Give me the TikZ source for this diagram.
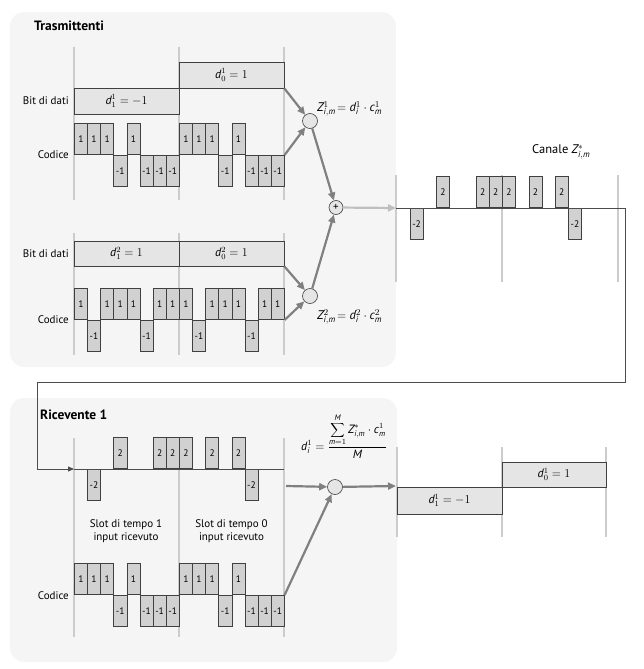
\documentclass[tikz,border=0pt]{standalone}
\usepackage{fontspec}
\setmainfont{PT Sans}
\usetikzlibrary{arrows.meta}
\newcommand\chiprow[6]{%
  \foreach \v [count=\k] in {#6} {%
    \pgfmathsetmacro\xx{#2+(\k-1)*#3}%
    \ifnum\v>0
      \node[bar, anchor=south west, minimum width=#3pt, minimum height=#5pt] (#1\k) at (\xx,#4) {\v};
    \else\ifnum\v<0
      \node[bar, anchor=north west, minimum width=#3pt, minimum height=#5pt] (#1\k) at (\xx,#4) {\v};
    \fi\fi
  }%
}
\tikzset{
  panel/.style={fill=black!4, rounded corners=14pt},
  vline/.style={draw=black!20, line width=2.6pt},
  bar/.style={draw=black!75, fill=black!18, line width=0.6pt, inner sep=0pt, font=\fontsize{9.5}{10}\selectfont},
  dbox/.style={draw=black!75, fill=black!10, line width=0.6pt, inner sep=0pt, minimum width=105pt, minimum height=26pt, font=\fontsize{12}{14}\selectfont},
  mult/.style={circle, draw=black!75, fill=black!10, line width=0.6pt, minimum size=15pt, inner sep=0pt},
  flow/.style={draw=black!50, line width=2.2pt, -{Triangle[length=8pt,width=7pt]}},
  feed/.style={draw=black!25, line width=2.2pt, -{Triangle[length=8pt,width=7pt]}},
  wire/.style={draw=black!70, line width=0.8pt},
  lbl/.style={anchor=east, inner sep=0pt},
  ttl/.style={anchor=west, inner sep=0pt, font=\fontsize{13.5}{15}\selectfont\bfseries},
  txt/.style={inner sep=0pt},
  fml/.style={inner sep=0pt, font=\fontsize{12.5}{14}\selectfont}
}
\begin{document}
\begin{tikzpicture}[x=1pt, y=-1pt, font=\fontsize{11}{13.5}\selectfont]
\useasboundingbox (0,0) rectangle (643,669);
% panels
\fill[panel] (10,12) rectangle (396,367);
\fill[panel] (10,398) rectangle (397,662);
% vertical slot lines
\foreach \x in {74,179,284} {
  \draw[vline] (\x,47) -- (\x,200);
  \draw[vline] (\x,233) -- (\x,355);
  \draw[vline] (\x,438) -- (\x,637);
}
\foreach \x in {396,502,618} \draw[vline] (\x,175) -- (\x,282);
\foreach \x in {397,502,606} \draw[vline] (\x,447) -- (\x,537);
% titles
\node[ttl] (tTx) at (34,26) {Trasmittenti};
\node[ttl] (tRx) at (40,415) {Ricevente 1};
% transmitter 1
\node[lbl] (lb1) at (69,101) {Bit di dati};
\node[lbl] (lc1) at (69,155) {Codice};
\node[dbox] (aD1) at (126.5,101) {$\mathit{d}^{1}_{1} = -1$};
\node[dbox] (aD0) at (231.5,75) {$\mathit{d}^{1}_{0} = 1$};
\chiprow{ca}{74}{13.125}{155}{31}{1,1,1,-1,1,-1,-1,-1,1,1,1,-1,1,-1,-1,-1}
% transmitter 2
\node[lbl] (lb2) at (69,253.5) {Bit di dati};
\node[lbl] (lc2) at (69,320) {Codice};
\node[dbox, minimum height=25pt] (bD1) at (126.5,253.5) {$\mathit{d}^{2}_{1} = 1$};
\node[dbox, minimum height=25pt] (bD0) at (231.5,253.5) {$\mathit{d}^{2}_{0} = 1$};
\chiprow{cb}{74}{13.125}{320}{31}{1,-1,1,1,1,-1,1,1,1,-1,1,1,1,-1,1,1}
% multipliers and sum
\node[mult] (m1) at (310,121) {};
\node[mult] (m2) at (310,296) {};
\node[mult, minimum size=14pt, font=\fontsize{11}{11}\selectfont] (sum) at (336,207.5) {+};
\node[fml, anchor=west] (f1) at (317,109) {$\mathit{Z}^{1}_{\mathit{i,m}}\!= \mathit{d}^{1}_{\mathit{i}}\cdot \mathit{c}^{1}_{\mathit{m}}$};
\node[fml, anchor=west] (f2) at (317,317) {$\mathit{Z}^{2}_{\mathit{i,m}}\!= \mathit{d}^{2}_{\mathit{i}}\cdot \mathit{c}^{2}_{\mathit{m}}$};
\draw[flow] (aD0.south east) -- (m1);
\draw[flow] (ca16.north east) -- (m1);
\draw[flow] (m1) -- (sum);
\draw[flow] (bD0.south east) -- (m2);
\draw[flow] (cb16.south east) -- (m2);
\draw[flow] (m2) -- (sum);
% channel
\coordinate (chs) at (396,208);
\coordinate (che) at (625,208);
\draw[feed] (sum) -- (chs);
\node[fml, anchor=west] (chl) at (532,152) {Canale $\mathit{Z}^{*}_{\mathit{i,m}}$};
\chiprow{ch}{396.5}{13.2}{208}{31}{0,-2,0,2,0,0,2,2,2,0,2,0,2,-2,0,0}
\draw[wire] (chs) -- (che);
% feedback wire to receiver
\coordinate (rxs) at (74,469);
\coordinate (rxe) at (284,469);
\draw[wire, -{Triangle[length=6pt,width=5pt]}] (che) -- (625,382) -| (37,469) -- (rxs);
% receiver
\chiprow{rx}{74}{13.125}{469}{31}{0,-2,0,2,0,0,2,2,2,0,2,0,2,-2,0,0}
\draw[wire] (rxs) -- (rxe);
\node[txt, align=center] (s1) at (126,531) {Slot di tempo 1\\input ricevuto};
\node[txt, align=center] (s0) at (231.5,531) {Slot di tempo 0\\input ricevuto};
\node[lbl] (lc3) at (69,596) {Codice};
\chiprow{cr}{74}{13.125}{595}{31}{1,1,1,-1,1,-1,-1,-1,1,1,1,-1,1,-1,-1,-1}
\node[mult] (rm) at (335,487) {};
\node[fml, font=\fontsize{12}{14}\selectfont] (fd) at (344,436) {$\mathit{d}^{1}_{\mathit{i}} = \displaystyle\frac{\displaystyle\sum_{\mathit{m}=1}^{\mathit{M}} \mathit{Z}^{*}_{\mathit{i,m}}\cdot \mathit{c}^{1}_{\mathit{m}}}{\mathit{M}}$};
\coordinate (rxo) at (286,486);
\coordinate (outs) at (396,486);
\draw[flow] (rxo) -- (rm);
\draw[flow] (rm) -- (outs);
\draw[flow] (cr16.north east) -- (rm);
% output bits
\node[dbox, minimum height=27pt] (oD1) at (449.5,500.5) {$\mathit{d}^{1}_{1} = -1$};
\node[dbox, minimum width=104pt, minimum height=25pt] (oD0) at (554,474.5) {$\mathit{d}^{1}_{0} = 1$};
\end{tikzpicture}
\end{document}
